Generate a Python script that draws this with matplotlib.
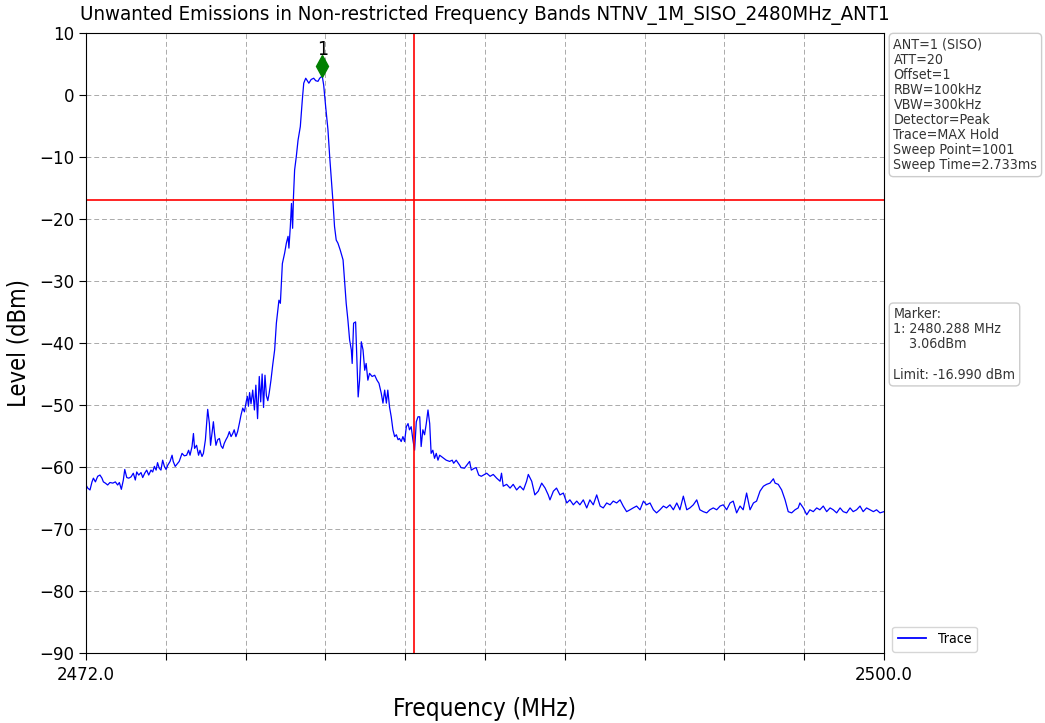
import numpy as np
import matplotlib.pyplot as plt
from matplotlib import transforms

# 频谱数据 (MHz, dBm)
freq = [
    2472.00, 2472.06, 2472.14, 2472.21, 2472.26, 2472.33, 2472.41, 2472.49, 2472.56, 2472.61,
    2472.68, 2472.76, 2472.84, 2472.94, 2473.03, 2473.11, 2473.17, 2473.24, 2473.31, 2473.36,
    2473.43, 2473.50, 2473.58, 2473.66, 2473.73, 2473.78, 2473.85, 2473.93, 2473.99, 2474.06,
    2474.13, 2474.20, 2474.28, 2474.34, 2474.40, 2474.46, 2474.51, 2474.57, 2474.63, 2474.69,
    2474.75, 2474.81, 2474.87, 2474.95, 2475.02, 2475.06, 2475.13, 2475.22, 2475.27, 2475.37,
    2475.45, 2475.53, 2475.60, 2475.65, 2475.72, 2475.77, 2475.81, 2475.88, 2475.95, 2476.00,
    2476.07, 2476.12, 2476.19, 2476.27, 2476.33, 2476.37, 2476.42, 2476.47, 2476.51, 2476.56,
    2476.62, 2476.68, 2476.74, 2476.80, 2476.85, 2476.91, 2476.97, 2477.03, 2477.09, 2477.15,
    2477.20, 2477.26, 2477.32, 2477.38, 2477.44, 2477.50, 2477.56, 2477.62, 2477.66, 2477.70,
    2477.74, 2477.79, 2477.85, 2477.91, 2477.96, 2478.02, 2478.08, 2478.13, 2478.18, 2478.23,
    2478.28, 2478.33, 2478.38, 2478.43, 2478.49, 2478.55, 2478.62, 2478.68, 2478.77, 2478.82,
    2478.89, 2478.97, 2479.03, 2479.09, 2479.12, 2479.17, 2479.21, 2479.25, 2479.28, 2479.32,
    2479.38, 2479.44, 2479.52, 2479.59, 2479.64, 2479.71, 2479.75, 2479.82, 2479.90, 2479.99,
    2480.06, 2480.14, 2480.20, 2480.288, 2480.34, 2480.41, 2480.49, 2480.55, 2480.61, 2480.67,
    2480.72, 2480.78, 2480.84, 2480.92, 2481.02, 2481.07, 2481.13, 2481.19, 2481.25, 2481.31,
    2481.34, 2481.39, 2481.46, 2481.51, 2481.55, 2481.60, 2481.66, 2481.72, 2481.78, 2481.83,
    2481.89, 2481.95, 2482.04, 2482.13, 2482.21, 2482.28, 2482.36, 2482.42, 2482.48, 2482.54,
    2482.59, 2482.65, 2482.71, 2482.77, 2482.83, 2482.89, 2482.95, 2483.00, 2483.06, 2483.12,
    2483.18, 2483.24, 2483.30, 2483.35, 2483.41, 2483.47, 2483.53, 2483.59, 2483.65, 2483.71,
    2483.76, 2483.82, 2483.88, 2483.94, 2484.00, 2484.06, 2484.11, 2484.17, 2484.23, 2484.29,
    2484.35, 2484.41, 2484.64, 2484.76, 2484.85, 2484.90, 2484.99, 2485.11, 2485.16, 2485.28,
    2485.36, 2485.46, 2485.52, 2485.63, 2485.69, 2485.78, 2485.87, 2486.06, 2486.18, 2486.29,
    2486.41, 2486.53, 2486.58, 2486.64, 2486.76, 2486.88, 2486.99, 2487.11, 2487.23, 2487.35,
    2487.46, 2487.52, 2487.64, 2487.75, 2487.87, 2487.99, 2488.11, 2488.22, 2488.28, 2488.40,
    2488.51, 2488.63, 2488.75, 2488.87, 2488.98, 2489.10, 2489.22, 2489.33, 2489.45, 2489.57,
    2489.68, 2489.80, 2489.92, 2490.04, 2490.15, 2490.27, 2490.39, 2490.50, 2490.62, 2490.74,
    2490.85, 2490.97, 2491.09, 2491.20, 2491.32, 2491.44, 2491.56, 2491.67, 2491.79, 2491.91,
    2492.02, 2492.14, 2492.26, 2492.37, 2492.49, 2492.61, 2492.73, 2492.84, 2492.96, 2493.08,
    2493.19, 2493.31, 2493.43, 2493.54, 2493.66, 2493.78, 2493.89, 2494.01, 2494.13, 2494.25,
    2494.36, 2494.48, 2494.60, 2494.71, 2494.83, 2494.95, 2495.06, 2495.18, 2495.30, 2495.42,
    2495.53, 2495.65, 2495.77, 2495.88, 2496.00, 2496.12, 2496.18, 2496.29, 2496.41, 2496.53,
    2496.64, 2496.76, 2496.88, 2496.99, 2497.05, 2497.17, 2497.29, 2497.40, 2497.52, 2497.64,
    2497.75, 2497.87, 2497.99, 2498.11, 2498.22, 2498.34, 2498.46, 2498.57, 2498.69, 2498.81,
    2498.92, 2499.04, 2499.16, 2499.27, 2499.39, 2499.51, 2499.63, 2499.74, 2499.86, 2500.00,
]
level = [
    -62.9, -63.4, -63.7, -62.4, -61.8, -62.4, -61.5, -61.3, -61.8, -62.4,
    -62.6, -62.9, -62.5, -62.6, -62.4, -62.9, -62.5, -63.6, -62.1, -60.4,
    -61.7, -61.8, -61.6, -61.0, -62.1, -60.8, -61.3, -60.9, -61.7, -61.0,
    -60.5, -61.3, -60.5, -60.8, -59.9, -60.5, -59.3, -60.2, -60.5, -58.9,
    -59.9, -60.4, -59.7, -59.1, -58.1, -59.1, -59.9, -59.4, -59.1, -57.8,
    -58.2, -58.1, -57.3, -58.1, -56.7, -54.6, -57.0, -56.5, -58.1, -57.3,
    -58.3, -57.8, -55.6, -50.7, -53.0, -56.5, -54.6, -52.7, -54.6, -56.5,
    -55.6, -55.4, -56.6, -57.0, -56.2, -55.6, -55.1, -54.3, -55.1, -54.6,
    -54.0, -55.1, -54.3, -53.0, -51.6, -50.5, -51.1, -49.5, -48.6, -50.2,
    -48.0, -49.8, -47.6, -50.8, -46.8, -52.2, -45.4, -49.5, -45.0, -50.4,
    -45.2, -48.5, -49.3, -48.0, -46.0, -43.6, -41.1, -36.8, -33.1, -33.6,
    -27.2, -25.5, -23.9, -22.8, -24.7, -21.2, -17.5, -21.5, -16.4, -12.1,
    -9.9, -7.3, -5.1, -0.8, 1.9, 2.7, 2.4, 1.9, 2.5, 2.7,
    2.3, 2.2, 2.7, 3.06, 1.6, -1.9, -5.6, -9.9, -13.7, -17.5,
    -21.2, -23.4, -23.9, -25.0, -26.6, -29.8, -33.6, -36.3, -39.5, -41.1,
    -43.3, -36.8, -36.6, -43.3, -48.7, -46.0, -39.8, -41.1, -44.4, -43.3,
    -46.0, -44.9, -45.4, -45.2, -46.0, -46.5, -48.1, -49.7, -47.6, -49.7,
    -47.6, -50.3, -51.9, -54.0, -55.1, -54.8, -55.6, -55.4, -55.9, -55.1,
    -55.9, -53.5, -53.0, -54.0, -53.5, -55.6, -57.3, -52.7, -51.9, -51.9,
    -56.7, -54.0, -54.8, -53.0, -50.8, -53.0, -57.8, -57.3, -58.6, -57.8,
    -58.9, -58.1, -58.9, -59.1, -58.9, -59.4, -58.9, -59.7, -60.1, -60.2,
    -59.7, -59.1, -60.5, -60.2, -60.1, -61.3, -61.5, -61.0, -61.5, -61.2,
    -61.8, -62.3, -61.0, -63.1, -62.8, -63.4, -62.8, -63.7, -63.1, -63.7,
    -62.3, -61.2, -62.3, -64.5, -63.9, -62.6, -63.4, -64.5, -65.3, -63.9,
    -63.4, -64.5, -64.2, -65.8, -65.3, -66.1, -65.5, -66.1, -65.3, -66.6,
    -65.3, -66.1, -64.5, -66.3, -66.6, -65.8, -66.1, -65.5, -65.8, -65.3,
    -66.3, -67.2, -66.9, -66.6, -66.3, -66.9, -65.5, -66.1, -65.8, -66.9,
    -67.4, -66.9, -66.3, -66.6, -66.1, -66.9, -65.8, -66.9, -64.7, -66.9,
    -66.6, -66.1, -65.3, -66.9, -67.2, -67.4, -66.9, -66.6, -66.9, -66.3,
    -66.1, -66.9, -65.8, -65.5, -67.4, -66.3, -66.9, -64.2, -66.9, -65.8,
    -65.5, -63.9, -63.1, -62.8, -62.6, -61.9, -62.6, -62.8, -63.7, -65.3,
    -67.2, -67.4, -66.9, -66.6, -65.8, -66.6, -67.7, -66.9, -67.2, -66.6,
    -66.9, -66.3, -67.2, -66.6, -66.9, -67.4, -66.6, -67.2, -67.4, -66.6,
    -67.2, -66.9, -66.3, -67.2, -66.6, -66.9, -67.2, -66.9, -67.4, -67.2,
]

# 标记与限值
marker_freq = 2480.288
marker_level = 3.06
limit = -16.990
edge_freq = 2483.5

title = 'Unwanted Emissions in Non-restricted Frequency Bands NTNV_1M_SISO_2480MHz_ANT1'
info_lines = ['ANT=1 (SISO)', 'ATT=20', 'Offset=1', 'RBW=100kHz', 'VBW=300kHz',
              'Detector=Peak', 'Trace=MAX Hold', 'Sweep Point=1001', 'Sweep Time=2.733ms']

plt.rcParams['font.family'] = ['DejaVu Sans']
plt.rcParams['font.stretch'] = 'condensed'

fig = plt.figure(figsize=(10.45, 7.23), dpi=100)
ax = fig.add_axes([0.0823, 0.0968, 0.7636, 0.8576])

ax.plot(freq, level, color='blue', lw=0.9, label='Trace')
ax.axhline(limit, color='red', lw=1.2)
ax.axvline(edge_freq, color='red', lw=1.2)

# 标记点，画在峰值上方一点
off = transforms.offset_copy(ax.transData, fig=fig, x=0, y=7, units='points')
ax.plot(marker_freq, marker_level, marker='d', color='green', ms=11, transform=off)
ax.annotate('1', (marker_freq, marker_level), xytext=(0, 19), textcoords='offset points',
            ha='center', va='center', fontsize=14)

ax.set_xlim(2472, 2500)
ax.set_ylim(-90, 10)
ticks = np.linspace(2472, 2500, 11)
ax.set_xticks(ticks)
ax.set_xticklabels(['2472.0'] + [''] * 9 + ['2500.0'])
ax.set_yticks(np.arange(-90, 11, 10))
ax.tick_params(labelsize=13.3, length=5)
ax.tick_params(axis='x', pad=4)
ax.grid(True, color='#aaaaaa', ls=(0, (5, 3)), lw=0.7)

ax.set_title(title, fontsize=14.7, pad=9)
ax.set_xlabel('Frequency (MHz)', fontsize=17.5, labelpad=10)
ax.set_ylabel('Level (dBm)', fontsize=17, labelpad=6)

box = dict(boxstyle='round,pad=0.3', fc='white', ec='#cccccc', lw=1)
fig.text(0.855, 0.948, '\n'.join(info_lines), fontsize=10.2, va='top', ha='left',
         color='#333333', linespacing=1.1, bbox=box)
marker_txt = 'Marker:\n1: %.3f MHz\n    %.2fdBm\n\nLimit: %.3f dBm' % (marker_freq, marker_level, limit)
fig.text(0.855, 0.575, marker_txt, fontsize=10.2, va='top', ha='left',
         color='#333333', linespacing=1.1, bbox=box)

leg = ax.legend(loc='lower left', bbox_to_anchor=(1.005, -0.005), fontsize=10.2, handlelength=2.0,
                borderaxespad=0.3, fancybox=True, edgecolor='#cccccc')
leg.get_lines()[0].set_linewidth(1.3)

fig.savefig('out.png', dpi=100)
